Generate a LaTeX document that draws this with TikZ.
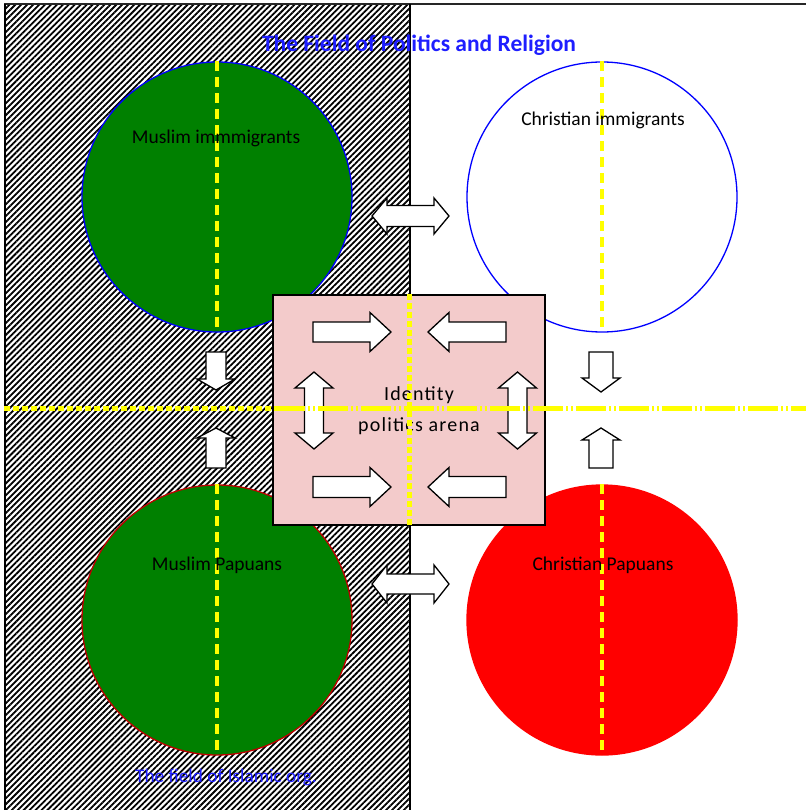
\documentclass[tikz,border=0pt]{standalone}
\usepackage{fontspec}
\setmainfont{Carlito}
\usetikzlibrary{patterns.meta}
\definecolor{dgreen}{RGB}{0,128,0}
\definecolor{pinkbox}{RGB}{243,203,203}
\definecolor{ttlblue}{RGB}{30,30,255}
\definecolor{ylw}{RGB}{255,255,0}
\definecolor{dred}{RGB}{192,0,0}
\tikzset{
  blockarrow/.style={draw=black, fill=white, line width=1.3pt, line join=miter},
  pics/sarrow/.style n args={4}{code={
    \draw[blockarrow] (-#1/2,-#2) -- (#1/2-#4,-#2) -- (#1/2-#4,-#3) -- (#1/2,0)
      -- (#1/2-#4,#3) -- (#1/2-#4,#2) -- (-#1/2,#2) -- cycle;}},
  pics/darrow/.style n args={4}{code={
    \draw[blockarrow] (-#1/2,0) -- (-#1/2+#4,-#3) -- (-#1/2+#4,-#2) -- (#1/2-#4,-#2)
      -- (#1/2-#4,-#3) -- (#1/2,0) -- (#1/2-#4,#3) -- (#1/2-#4,#2)
      -- (-#1/2+#4,#2) -- (-#1/2+#4,#3) -- cycle;}},
  field/.style={circle, minimum size=270pt, inner sep=0pt, line width=1.3pt},
  lbl/.style={font=\fontsize{19.5}{21}\selectfont, text=black, inner sep=0pt},
  ydash/.style={draw=ylw, line width=3.5pt, dash pattern=on 10pt off 6pt},
  ydot/.style={draw=ylw, line width=5pt, dash pattern=on 6pt off 3pt},
  ydashdot/.style={draw=ylw, line width=5pt, dash pattern=on 30pt off 3pt on 2pt off 3pt on 2pt off 3pt},
}
\begin{document}
\begin{tikzpicture}[x=1pt,y=-1pt]
\useasboundingbox (0,0) rectangle (806,810);
\fill[white] (0,0) rectangle (806,810);
% hatched field of Islamic org.
\fill[white] (5,4) rectangle (410,812);
\fill[pattern={Lines[angle=45,distance=4.2pt,line width=1.8pt]}, pattern color=black] (5,4) rectangle (410,812);
\draw[line width=2.5pt, black!85] (4,4) -- (806,4);
\draw[line width=1.5pt] (5,4) -- (5,810);
\draw[line width=1.5pt] (410,4) -- (410,810);

% circles
\node[field, fill=dgreen, draw=blue] (mimm) at (217,197) {};
\node[field, fill=white, draw=blue] (cimm) at (602,197) {};
\node[field, fill=dgreen, draw=dred] (mpap) at (217,620) {};
\node[field, fill=red, draw=red] (cpap) at (602,620) {};

\draw[ydash] (mimm.north) -- (mimm.south);
\draw[ydash] (cimm.north) -- (cimm.south);
\draw[ydash] (mpap.north) -- (mpap.south);
\draw[ydash] (cpap.north) -- (cpap.south);

\node[lbl] (tmimm) at (216,138) {Muslim immmigrants};
\node[lbl] (tcimm) at (603,120) {Christian immigrants};
\node[lbl] (tmpap) at (217,565) {Muslim Papuans};
\node[lbl] (tcpap) at (603,565) {Christian Papuans};

% outer arrows
\pic at (410.5,216) {darrow={77}{10.5}{18}{15}};
\pic at (410.5,584) {darrow={77}{10}{19}{15}};
\pic[rotate=-90] at (216,371) {sarrow={38}{10}{19}{11}};
\pic[rotate=90] at (216,448) {sarrow={40}{10}{19}{10}};
\pic[rotate=-90] at (601,372) {sarrow={40}{12}{19}{14}};
\pic[rotate=90] at (601,448) {sarrow={40}{12}{19}{12}};

% arena
\node[draw=black, fill=pinkbox, line width=1.5pt, minimum width=272pt, minimum height=230pt, inner sep=0pt] (arena) at (409,410) {};
\pic at (352,332) {sarrow={78}{10}{19.5}{21}};
\pic[rotate=180] at (467,332) {sarrow={78}{10}{19.5}{21}};
\pic at (352,487) {sarrow={78}{10.5}{19.5}{21}};
\pic[rotate=180] at (467,487) {sarrow={78}{10.5}{19.5}{21}};
\pic[rotate=90] at (314,410.5) {darrow={77}{9.5}{19}{16}};
\pic[rotate=90] at (517.5,410.5) {darrow={77}{9.5}{19}{16}};

\node[lbl, align=center, font=\fontsize{20}{31}\selectfont\addfontfeature{LetterSpace=6}] (tarena) at (419,411) {Identity\\politics arena};

\draw[ydot] (arena.north) -- (arena.south);
\draw[ydot] (4,408) -- (275,408);
\draw[ydashdot] (275,408) -- (806,408);

% titles
\node[font=\bfseries\fontsize{23.5}{25}\selectfont, text=ttlblue, inner sep=0pt] (title) at (419,45) {The Field of Politics and Religion};
\node[font=\fontsize{19.3}{21}\selectfont, text=ttlblue, inner sep=0pt] (islam) at (226,777) {The field of Islamic org.};
\end{tikzpicture}
\end{document}
